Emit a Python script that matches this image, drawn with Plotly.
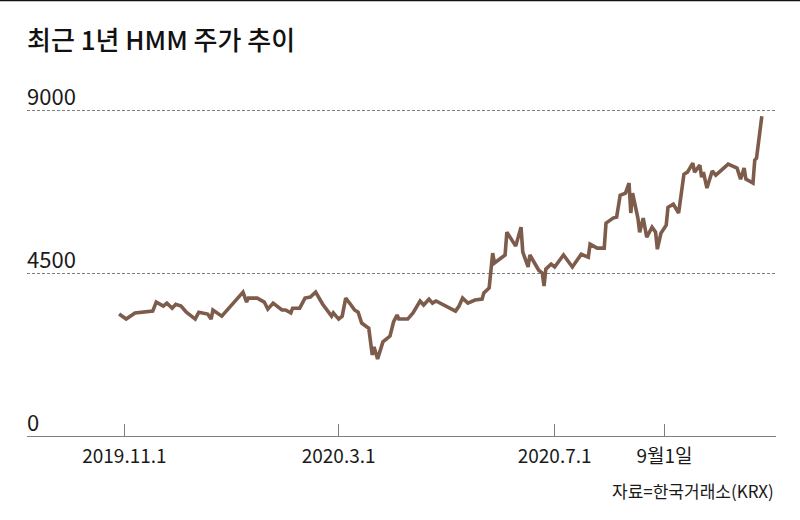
import plotly.graph_objects as go

# ---- data ----
dates = [
    "2019-10-29", "2019-11-02", "2019-11-07", "2019-11-13", "2019-11-17", "2019-11-19",
    "2019-11-23", "2019-11-25", "2019-11-28", "2019-11-30", "2019-12-03", "2019-12-06",
    "2019-12-11", "2019-12-13", "2019-12-18", "2019-12-20", "2019-12-21", "2019-12-26",
    "2019-12-28", "2020-01-02", "2020-01-07", "2020-01-09", "2020-01-10", "2020-01-15",
    "2020-01-19", "2020-01-21", "2020-01-24", "2020-01-29", "2020-01-31", "2020-02-03",
    "2020-02-04", "2020-02-08", "2020-02-11", "2020-02-14", "2020-02-17", "2020-02-21",
    "2020-02-24", "2020-02-26", "2020-02-27", "2020-03-01", "2020-03-03", "2020-03-05",
    "2020-03-08", "2020-03-10", "2020-03-12", "2020-03-14", "2020-03-17", "2020-03-18",
    "2020-03-20", "2020-03-21", "2020-03-23", "2020-03-26", "2020-03-30", "2020-04-01",
    "2020-04-03", "2020-04-04", "2020-04-09", "2020-04-12", "2020-04-16", "2020-04-18",
    "2020-04-21", "2020-04-23", "2020-04-25", "2020-04-30", "2020-05-06", "2020-05-08",
    "2020-05-10", "2020-05-13", "2020-05-17", "2020-05-21", "2020-05-22", "2020-05-25",
    "2020-05-26", "2020-05-27", "2020-05-28", "2020-06-03", "2020-06-04", "2020-06-09",
    "2020-06-12", "2020-06-13", "2020-06-16", "2020-06-17", "2020-06-22", "2020-06-24",
    "2020-06-25", "2020-06-26", "2020-06-29", "2020-07-01", "2020-07-06", "2020-07-11",
    "2020-07-16", "2020-07-20", "2020-07-21", "2020-07-25", "2020-07-29", "2020-07-30",
    "2020-08-03", "2020-08-05", "2020-08-07", "2020-08-10", "2020-08-12", "2020-08-13",
    "2020-08-14", "2020-08-17", "2020-08-18", "2020-08-20", "2020-08-22", "2020-08-25",
    "2020-08-27", "2020-08-28", "2020-08-30", "2020-09-02", "2020-09-03", "2020-09-06",
    "2020-09-09", "2020-09-12", "2020-09-14", "2020-09-17", "2020-09-18", "2020-09-21",
    "2020-09-22", "2020-09-23", "2020-09-25", "2020-09-28", "2020-09-30", "2020-10-07",
    "2020-10-12", "2020-10-14", "2020-10-16", "2020-10-17", "2020-10-21", "2020-10-22",
    "2020-10-23", "2020-10-26",
]
prices = [
    3370, 3230, 3400, 3420, 3450, 3700,
    3590, 3670, 3530, 3640, 3590, 3420,
    3230, 3420, 3370, 3230, 3480, 3310,
    3420, 3670, 3975, 3700, 3810, 3810,
    3700, 3505, 3670, 3480, 3480, 3400,
    3530, 3530, 3810, 3840, 3975, 3640,
    3450, 3310, 3400, 3230, 3310, 3810,
    3620, 3480, 3420, 3120, 3010, 2980,
    2240, 2460, 2130, 2600, 2760, 3150,
    3340, 3230, 3230, 3400, 3730, 3620,
    3780, 3670, 3730, 3590, 3450, 3590,
    3810, 3670, 3755, 3780, 3950, 4090,
    4500, 5050, 4780, 5000, 5630, 5245,
    5770, 5080, 4670, 5000, 4580, 4500,
    4140, 4610, 4750, 4670, 5000, 4670,
    5020, 4940, 5300, 5190, 5190, 5880,
    6020, 6050, 6650, 6710, 6985, 6160,
    6710, 6020, 5630, 6020, 5490, 5770,
    5630, 5160, 5600, 5825, 6320, 6405,
    6160, 7230, 7290, 7540, 7290, 7480,
    7150, 7290, 6850, 7320, 7205, 7510,
    7400, 7095, 7400, 7095, 6985, 7620,
    7675, 8830,
]

tick_dates = ["2019-11-01", "2020-03-01", "2020-07-01", "2020-09-01"]
tick_labels = ["2019.11.1", "2020.3.1", "2020.7.1", "9월1일"]
y_levels = [0, 4500, 9000]
y_labels = ["0", "4500", "9000"]

title_text = "최근 1년 HMM 주가 추이"
source_text = "자료=한국거래소(KRX)"

FONT = "Noto Sans CJK KR"
LINE_COLOR = "#7d5c4c"
GRID_COLOR = "#7f7f7f"
TEXT_COLOR = "#1a1a1a"

fig = go.Figure()
fig.add_trace(go.Scatter(
    x=dates, y=prices, mode="lines",
    line=dict(color=LINE_COLOR, width=3.6, shape="linear"),
    hoverinfo="skip", showlegend=False,
))

L, R, T, B = 27, 24, 74, 84
W, H = 800, 520
pw, ph = W - L - R, H - T - B

fig.update_layout(
    width=W, height=H,
    margin=dict(l=L, r=R, t=T, b=B, pad=0),
    paper_bgcolor="white", plot_bgcolor="white",
    font=dict(family=FONT, color=TEXT_COLOR),
    xaxis=dict(
        type="date",
        range=["2019-09-07", "2020-11-03"],
        tickvals=tick_dates, ticktext=tick_labels,
        ticks="inside", ticklen=12, tickwidth=1, tickcolor=GRID_COLOR,
        showline=True, linecolor=GRID_COLOR, linewidth=1,
        showgrid=False, zeroline=False,
        tickfont=dict(family=FONT, size=19, color=TEXT_COLOR),
        ticklabelstandoff=3,
        fixedrange=True,
    ),
    yaxis=dict(
        range=[0, 10000],
        tickvals=[v for v in y_levels if v > 0],
        showticklabels=False,
        showgrid=True, gridcolor=GRID_COLOR, gridwidth=1, griddash="3px,2px",
        zeroline=False, showline=False, ticks="",
        fixedrange=True,
    ),
)

# y labels sitting above each level line, left aligned
for v, lab in zip(y_levels, y_labels):
    fig.add_annotation(
        x=0, xref="paper", y=v, yref="y",
        text=lab, showarrow=False, xanchor="left", yanchor="bottom",
        font=dict(family=FONT, size=22, color=TEXT_COLOR), xshift=-2, yshift=-3,
    )

# title
fig.add_annotation(
    x=0, xref="paper", y=1 + (T - 38) / ph, yref="paper",
    text=title_text, showarrow=False, xanchor="left", yanchor="middle",
    font=dict(family=FONT, size=26, color="#111111", weight=500), xshift=-2,
)

# source
fig.add_annotation(
    x=1, xref="paper", y=-(491 - (H - B)) / ph, yref="paper",
    text=source_text, showarrow=False, xanchor="right", yanchor="middle",
    font=dict(family=FONT, size=17, color=TEXT_COLOR),
)

# top border line across the full width
fig.add_shape(
    type="line", xref="paper", yref="paper",
    x0=-L / pw, x1=(W - L) / pw,
    y0=1 + (T - 0.5) / ph, y1=1 + (T - 0.5) / ph,
    line=dict(color="#111111", width=1.5),
)

fig.write_html(
    "out.html",
    config={"displayModeBar": False},
    post_script="document.body.style.margin='0px';",
)
